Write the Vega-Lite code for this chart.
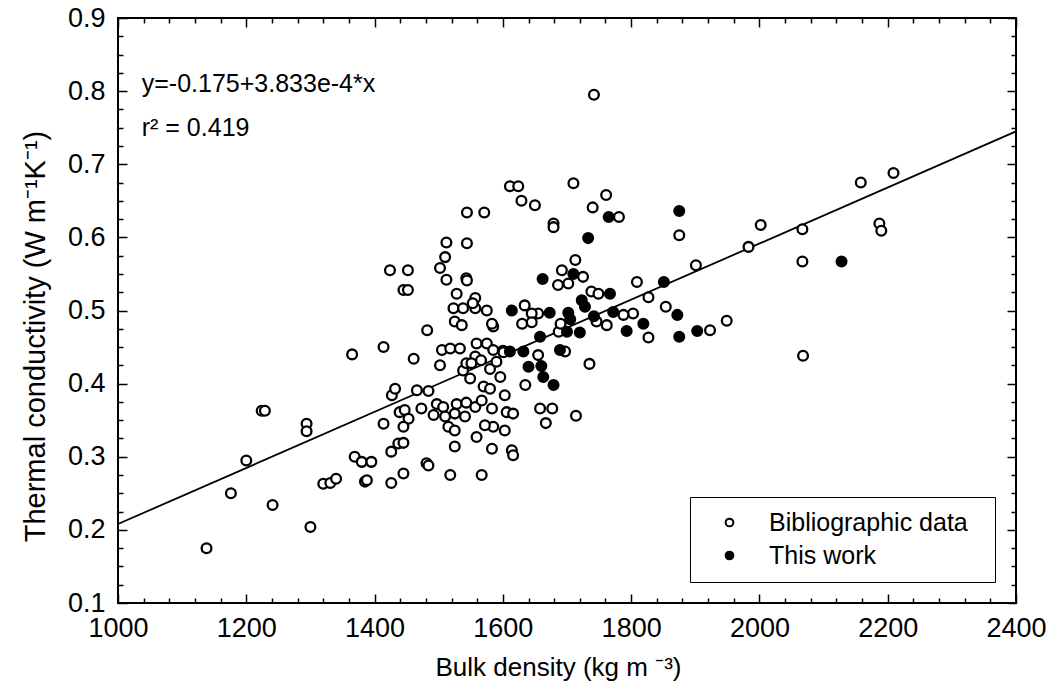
{
  "$schema": "https://vega.github.io/schema/vega-lite/v6.json",
  "width": 898,
  "height": 585,
  "autosize": {"type": "none"},
  "padding": {"left": 118, "top": 18, "right": 36, "bottom": 91},
  "background": "white",
  "config": {
    "font": "Liberation Sans",
    "view": {"stroke": "black", "strokeWidth": 2},
    "axis": {"labelFont": "Liberation Sans", "titleFont": "Liberation Sans", "labelColor": "black", "titleColor": "black", "titleFontWeight": "normal", "domain": false, "grid": false, "tickColor": "black", "tickWidth": 1.5}
  },
  "datasets": {
    "fit": [{"density": 1000, "k": 0.208}, {"density": 2400, "k": 0.745}],
    "notes": [{"density": 1037, "k": 0.810, "txt": "y=-0.175+3.833e-4*x"}, {"density": 1037, "k": 0.750, "txt": "r² = 0.419"}],
    "pts": [
      {"density": 1138, "k": 0.175, "src": "Bibliographic data"},
      {"density": 1176, "k": 0.250, "src": "Bibliographic data"},
      {"density": 1200, "k": 0.295, "src": "Bibliographic data"},
      {"density": 1224, "k": 0.363, "src": "Bibliographic data"},
      {"density": 1229, "k": 0.363, "src": "Bibliographic data"},
      {"density": 1241, "k": 0.234, "src": "Bibliographic data"},
      {"density": 1294, "k": 0.345, "src": "Bibliographic data"},
      {"density": 1294, "k": 0.335, "src": "Bibliographic data"},
      {"density": 1300, "k": 0.204, "src": "Bibliographic data"},
      {"density": 1320, "k": 0.263, "src": "Bibliographic data"},
      {"density": 1331, "k": 0.264, "src": "Bibliographic data"},
      {"density": 1340, "k": 0.270, "src": "Bibliographic data"},
      {"density": 1365, "k": 0.440, "src": "Bibliographic data"},
      {"density": 1369, "k": 0.300, "src": "Bibliographic data"},
      {"density": 1380, "k": 0.293, "src": "Bibliographic data"},
      {"density": 1395, "k": 0.293, "src": "Bibliographic data"},
      {"density": 1385, "k": 0.266, "src": "Bibliographic data"},
      {"density": 1388, "k": 0.268, "src": "Bibliographic data"},
      {"density": 1414, "k": 0.450, "src": "Bibliographic data"},
      {"density": 1414, "k": 0.345, "src": "Bibliographic data"},
      {"density": 1426, "k": 0.307, "src": "Bibliographic data"},
      {"density": 1426, "k": 0.264, "src": "Bibliographic data"},
      {"density": 1427, "k": 0.384, "src": "Bibliographic data"},
      {"density": 1432, "k": 0.393, "src": "Bibliographic data"},
      {"density": 1439, "k": 0.361, "src": "Bibliographic data"},
      {"density": 1447, "k": 0.364, "src": "Bibliographic data"},
      {"density": 1453, "k": 0.352, "src": "Bibliographic data"},
      {"density": 1445, "k": 0.341, "src": "Bibliographic data"},
      {"density": 1437, "k": 0.318, "src": "Bibliographic data"},
      {"density": 1445, "k": 0.319, "src": "Bibliographic data"},
      {"density": 1445, "k": 0.277, "src": "Bibliographic data"},
      {"density": 1461, "k": 0.434, "src": "Bibliographic data"},
      {"density": 1466, "k": 0.391, "src": "Bibliographic data"},
      {"density": 1484, "k": 0.390, "src": "Bibliographic data"},
      {"density": 1473, "k": 0.366, "src": "Bibliographic data"},
      {"density": 1481, "k": 0.291, "src": "Bibliographic data"},
      {"density": 1484, "k": 0.288, "src": "Bibliographic data"},
      {"density": 1482, "k": 0.473, "src": "Bibliographic data"},
      {"density": 1518, "k": 0.275, "src": "Bibliographic data"},
      {"density": 1424, "k": 0.555, "src": "Bibliographic data"},
      {"density": 1452, "k": 0.555, "src": "Bibliographic data"},
      {"density": 1445, "k": 0.528, "src": "Bibliographic data"},
      {"density": 1452, "k": 0.528, "src": "Bibliographic data"},
      {"density": 1510, "k": 0.573, "src": "Bibliographic data"},
      {"density": 1502, "k": 0.558, "src": "Bibliographic data"},
      {"density": 1512, "k": 0.542, "src": "Bibliographic data"},
      {"density": 1543, "k": 0.544, "src": "Bibliographic data"},
      {"density": 1528, "k": 0.523, "src": "Bibliographic data"},
      {"density": 1523, "k": 0.503, "src": "Bibliographic data"},
      {"density": 1538, "k": 0.503, "src": "Bibliographic data"},
      {"density": 1557, "k": 0.517, "src": "Bibliographic data"},
      {"density": 1557, "k": 0.503, "src": "Bibliographic data"},
      {"density": 1575, "k": 0.500, "src": "Bibliographic data"},
      {"density": 1525, "k": 0.485, "src": "Bibliographic data"},
      {"density": 1536, "k": 0.480, "src": "Bibliographic data"},
      {"density": 1585, "k": 0.478, "src": "Bibliographic data"},
      {"density": 1505, "k": 0.446, "src": "Bibliographic data"},
      {"density": 1518, "k": 0.448, "src": "Bibliographic data"},
      {"density": 1533, "k": 0.448, "src": "Bibliographic data"},
      {"density": 1502, "k": 0.425, "src": "Bibliographic data"},
      {"density": 1559, "k": 0.455, "src": "Bibliographic data"},
      {"density": 1575, "k": 0.455, "src": "Bibliographic data"},
      {"density": 1585, "k": 0.446, "src": "Bibliographic data"},
      {"density": 1538, "k": 0.418, "src": "Bibliographic data"},
      {"density": 1549, "k": 0.407, "src": "Bibliographic data"},
      {"density": 1580, "k": 0.420, "src": "Bibliographic data"},
      {"density": 1596, "k": 0.409, "src": "Bibliographic data"},
      {"density": 1570, "k": 0.396, "src": "Bibliographic data"},
      {"density": 1580, "k": 0.393, "src": "Bibliographic data"},
      {"density": 1603, "k": 0.384, "src": "Bibliographic data"},
      {"density": 1497, "k": 0.372, "src": "Bibliographic data"},
      {"density": 1507, "k": 0.368, "src": "Bibliographic data"},
      {"density": 1528, "k": 0.372, "src": "Bibliographic data"},
      {"density": 1543, "k": 0.374, "src": "Bibliographic data"},
      {"density": 1557, "k": 0.368, "src": "Bibliographic data"},
      {"density": 1567, "k": 0.377, "src": "Bibliographic data"},
      {"density": 1583, "k": 0.366, "src": "Bibliographic data"},
      {"density": 1492, "k": 0.357, "src": "Bibliographic data"},
      {"density": 1510, "k": 0.355, "src": "Bibliographic data"},
      {"density": 1525, "k": 0.359, "src": "Bibliographic data"},
      {"density": 1541, "k": 0.355, "src": "Bibliographic data"},
      {"density": 1606, "k": 0.361, "src": "Bibliographic data"},
      {"density": 1616, "k": 0.359, "src": "Bibliographic data"},
      {"density": 1515, "k": 0.341, "src": "Bibliographic data"},
      {"density": 1525, "k": 0.336, "src": "Bibliographic data"},
      {"density": 1559, "k": 0.327, "src": "Bibliographic data"},
      {"density": 1585, "k": 0.341, "src": "Bibliographic data"},
      {"density": 1572, "k": 0.343, "src": "Bibliographic data"},
      {"density": 1603, "k": 0.336, "src": "Bibliographic data"},
      {"density": 1525, "k": 0.314, "src": "Bibliographic data"},
      {"density": 1583, "k": 0.311, "src": "Bibliographic data"},
      {"density": 1614, "k": 0.309, "src": "Bibliographic data"},
      {"density": 1616, "k": 0.302, "src": "Bibliographic data"},
      {"density": 1567, "k": 0.275, "src": "Bibliographic data"},
      {"density": 1543, "k": 0.428, "src": "Bibliographic data"},
      {"density": 1557, "k": 0.437, "src": "Bibliographic data"},
      {"density": 1566, "k": 0.432, "src": "Bibliographic data"},
      {"density": 1590, "k": 0.430, "src": "Bibliographic data"},
      {"density": 1600, "k": 0.445, "src": "Bibliographic data"},
      {"density": 1544, "k": 0.634, "src": "Bibliographic data"},
      {"density": 1571, "k": 0.634, "src": "Bibliographic data"},
      {"density": 1512, "k": 0.593, "src": "Bibliographic data"},
      {"density": 1544, "k": 0.592, "src": "Bibliographic data"},
      {"density": 1544, "k": 0.541, "src": "Bibliographic data"},
      {"density": 1611, "k": 0.670, "src": "Bibliographic data"},
      {"density": 1624, "k": 0.670, "src": "Bibliographic data"},
      {"density": 1629, "k": 0.650, "src": "Bibliographic data"},
      {"density": 1650, "k": 0.644, "src": "Bibliographic data"},
      {"density": 1710, "k": 0.674, "src": "Bibliographic data"},
      {"density": 1740, "k": 0.641, "src": "Bibliographic data"},
      {"density": 1761, "k": 0.658, "src": "Bibliographic data"},
      {"density": 1781, "k": 0.628, "src": "Bibliographic data"},
      {"density": 1679, "k": 0.619, "src": "Bibliographic data"},
      {"density": 1679, "k": 0.614, "src": "Bibliographic data"},
      {"density": 1713, "k": 0.569, "src": "Bibliographic data"},
      {"density": 1692, "k": 0.555, "src": "Bibliographic data"},
      {"density": 1686, "k": 0.535, "src": "Bibliographic data"},
      {"density": 1702, "k": 0.537, "src": "Bibliographic data"},
      {"density": 1725, "k": 0.546, "src": "Bibliographic data"},
      {"density": 1738, "k": 0.526, "src": "Bibliographic data"},
      {"density": 1749, "k": 0.523, "src": "Bibliographic data"},
      {"density": 1809, "k": 0.539, "src": "Bibliographic data"},
      {"density": 1827, "k": 0.518, "src": "Bibliographic data"},
      {"density": 1854, "k": 0.505, "src": "Bibliographic data"},
      {"density": 1875, "k": 0.603, "src": "Bibliographic data"},
      {"density": 1901, "k": 0.562, "src": "Bibliographic data"},
      {"density": 1803, "k": 0.496, "src": "Bibliographic data"},
      {"density": 1788, "k": 0.494, "src": "Bibliographic data"},
      {"density": 1762, "k": 0.480, "src": "Bibliographic data"},
      {"density": 1746, "k": 0.485, "src": "Bibliographic data"},
      {"density": 1655, "k": 0.496, "src": "Bibliographic data"},
      {"density": 1645, "k": 0.496, "src": "Bibliographic data"},
      {"density": 1634, "k": 0.507, "src": "Bibliographic data"},
      {"density": 1645, "k": 0.484, "src": "Bibliographic data"},
      {"density": 1630, "k": 0.482, "src": "Bibliographic data"},
      {"density": 1687, "k": 0.471, "src": "Bibliographic data"},
      {"density": 1690, "k": 0.482, "src": "Bibliographic data"},
      {"density": 1697, "k": 0.444, "src": "Bibliographic data"},
      {"density": 1735, "k": 0.427, "src": "Bibliographic data"},
      {"density": 1655, "k": 0.439, "src": "Bibliographic data"},
      {"density": 1635, "k": 0.398, "src": "Bibliographic data"},
      {"density": 1658, "k": 0.366, "src": "Bibliographic data"},
      {"density": 1677, "k": 0.366, "src": "Bibliographic data"},
      {"density": 1667, "k": 0.346, "src": "Bibliographic data"},
      {"density": 1714, "k": 0.356, "src": "Bibliographic data"},
      {"density": 1827, "k": 0.463, "src": "Bibliographic data"},
      {"density": 1923, "k": 0.473, "src": "Bibliographic data"},
      {"density": 1949, "k": 0.486, "src": "Bibliographic data"},
      {"density": 1553, "k": 0.510, "src": "Bibliographic data"},
      {"density": 1583, "k": 0.482, "src": "Bibliographic data"},
      {"density": 1551, "k": 0.428, "src": "Bibliographic data"},
      {"density": 1601, "k": 0.443, "src": "Bibliographic data"},
      {"density": 1983, "k": 0.587, "src": "Bibliographic data"},
      {"density": 2002, "k": 0.617, "src": "Bibliographic data"},
      {"density": 2067, "k": 0.611, "src": "Bibliographic data"},
      {"density": 2067, "k": 0.567, "src": "Bibliographic data"},
      {"density": 2068, "k": 0.438, "src": "Bibliographic data"},
      {"density": 2158, "k": 0.675, "src": "Bibliographic data"},
      {"density": 2187, "k": 0.619, "src": "Bibliographic data"},
      {"density": 2190, "k": 0.609, "src": "Bibliographic data"},
      {"density": 2209, "k": 0.688, "src": "Bibliographic data"},
      {"density": 1742, "k": 0.795, "src": "Bibliographic data"},
      {"density": 1875, "k": 0.636, "src": "This work"},
      {"density": 1733, "k": 0.599, "src": "This work"},
      {"density": 1765, "k": 0.628, "src": "This work"},
      {"density": 1662, "k": 0.543, "src": "This work"},
      {"density": 1710, "k": 0.550, "src": "This work"},
      {"density": 1851, "k": 0.539, "src": "This work"},
      {"density": 1767, "k": 0.523, "src": "This work"},
      {"density": 1723, "k": 0.514, "src": "This work"},
      {"density": 1728, "k": 0.505, "src": "This work"},
      {"density": 1772, "k": 0.498, "src": "This work"},
      {"density": 1872, "k": 0.494, "src": "This work"},
      {"density": 1903, "k": 0.472, "src": "This work"},
      {"density": 1875, "k": 0.464, "src": "This work"},
      {"density": 1819, "k": 0.482, "src": "This work"},
      {"density": 1793, "k": 0.472, "src": "This work"},
      {"density": 1702, "k": 0.497, "src": "This work"},
      {"density": 1700, "k": 0.471, "src": "This work"},
      {"density": 1720, "k": 0.470, "src": "This work"},
      {"density": 1673, "k": 0.497, "src": "This work"},
      {"density": 1614, "k": 0.500, "src": "This work"},
      {"density": 1658, "k": 0.464, "src": "This work"},
      {"density": 1689, "k": 0.446, "src": "This work"},
      {"density": 1632, "k": 0.444, "src": "This work"},
      {"density": 1611, "k": 0.444, "src": "This work"},
      {"density": 1640, "k": 0.423, "src": "This work"},
      {"density": 1660, "k": 0.424, "src": "This work"},
      {"density": 1663, "k": 0.409, "src": "This work"},
      {"density": 1679, "k": 0.398, "src": "This work"},
      {"density": 1705, "k": 0.488, "src": "This work"},
      {"density": 1742, "k": 0.492, "src": "This work"},
      {"density": 2128, "k": 0.567, "src": "This work"}
    ]
  },
  "layer": [
    {
      "data": {"name": "fit"},
      "mark": {"type": "line", "color": "black", "strokeWidth": 1.8},
      "encoding": {
        "x": {"field": "density", "type": "quantitative", "scale": {"domain": [1000, 2400], "nice": false, "zero": false},
          "axis": {"orient": "top", "title": null, "values": [1000,1040,1080,1120,1160,1200,1240,1280,1320,1360,1400,1440,1480,1520,1560,1600,1640,1680,1720,1760,1800,1840,1880,1920,1960,2000,2040,2080,2120,2160,2200,2240,2280,2320,2360,2400], "labels": false,
            "tickSize": {"condition": {"test": "datum.value % 200 === 0", "value": -9}, "value": -5}}},
        "y": {"field": "k", "type": "quantitative", "scale": {"domain": [0.1, 0.9], "nice": false, "zero": false},
          "axis": {"orient": "right", "title": null, "values": [0.1,0.125,0.15,0.175,0.2,0.225,0.25,0.275,0.3,0.325,0.35,0.375,0.4,0.425,0.45,0.475,0.5,0.525,0.55,0.575,0.6,0.625,0.65,0.675,0.7,0.725,0.75,0.775,0.8,0.825,0.85,0.875,0.9], "labels": false,
            "tickSize": {"condition": {"test": "abs(datum.value*10 - round(datum.value*10)) < 0.000001", "value": -9}, "value": -5}}}
      }
    },
    {
      "data": {"name": "pts"},
      "mark": {"type": "point", "shape": "circle", "filled": true, "stroke": "black", "strokeWidth": 2.3, "size": 95, "opacity": 1},
      "encoding": {
        "x": {"field": "density", "type": "quantitative", "scale": {"domain": [1000, 2400], "nice": false, "zero": false},
          "axis": {"orient": "bottom", "title": "Bulk density (kg m  ⁻³)", "titleFontSize": 26, "titlePadding": 13, "titleX": 440, "labelFontSize": 27, "labelPadding": 21, "format": "d", "labelFlush": false, "labelAlign": "center",
            "values": [1000,1040,1080,1120,1160,1200,1240,1280,1320,1360,1400,1440,1480,1520,1560,1600,1640,1680,1720,1760,1800,1840,1880,1920,1960,2000,2040,2080,2120,2160,2200,2240,2280,2320,2360,2400],
            "labelExpr": "datum.value % 200 === 0 ? datum.label : ''",
            "tickSize": {"condition": {"test": "datum.value % 200 === 0", "value": -9}, "value": -5}}},
        "y": {"field": "k", "type": "quantitative", "scale": {"domain": [0.1, 0.9], "nice": false, "zero": false},
          "axis": {"orient": "left", "title": "Thermal conductivity (W m⁻¹K⁻¹)", "titleFontSize": 29, "titlePadding": 17, "titleY": 318, "labelFontSize": 27, "labelPadding": 22, "format": ".1f",
            "values": [0.1,0.125,0.15,0.175,0.2,0.225,0.25,0.275,0.3,0.325,0.35,0.375,0.4,0.425,0.45,0.475,0.5,0.525,0.55,0.575,0.6,0.625,0.65,0.675,0.7,0.725,0.75,0.775,0.8,0.825,0.85,0.875,0.9],
            "labelExpr": "abs(datum.value*10 - round(datum.value*10)) < 0.000001 ? format(datum.value, '.1f') : ''",
            "tickSize": {"condition": {"test": "abs(datum.value*10 - round(datum.value*10)) < 0.000001", "value": -9}, "value": -5}}},
        "fill": {"field": "src", "type": "nominal", "scale": {"domain": ["Bibliographic data", "This work"], "range": ["white", "black"]},
          "legend": {"title": "\u00a0", "titleOrient": "right", "titleFontSize": 4, "titlePadding": 14, "orient": "bottom-right", "offset": 21, "strokeColor": "black", "padding": 13, "labelFontSize": 25, "labelLimit": 0, "labelColor": "black", "labelFont": "Liberation Sans", "symbolSize": 60, "symbolStrokeColor": "black", "symbolStrokeWidth": 2, "symbolType": "circle", "symbolOffset": 14, "labelOffset": 27, "rowPadding": 7, "fillColor": "white"}}
      }
    },
    {
      "data": {"name": "notes"},
      "mark": {"type": "text", "align": "left", "baseline": "middle", "fontSize": 25, "font": "Liberation Sans", "color": "black"},
      "encoding": {
        "x": {"field": "density", "type": "quantitative", "axis": null},
        "y": {"field": "k", "type": "quantitative", "axis": null},
        "text": {"field": "txt"}
      }
    }
  ],
  "resolve": {"axis": {"x": "independent", "y": "independent"}}
}
